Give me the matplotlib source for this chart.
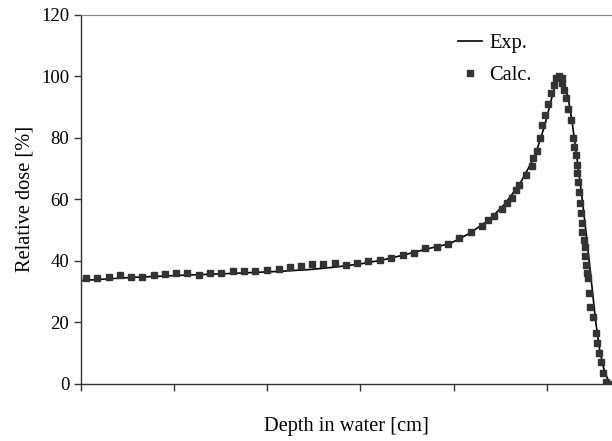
import matplotlib.pyplot as plt

# depth in cm, dose in %
exp_depth = [0.0, 2.63, 5.31, 7.99, 10.68, 12.29, 13.68, 14.97, 16.20, 17.38, 18.72, 19.80,
             20.87, 21.94, 22.75, 23.55, 24.36, 24.89, 25.27, 25.48, 25.62, 25.75, 25.91,
             26.13, 26.34, 26.50, 26.66, 26.82, 26.98, 27.15, 27.31, 27.47, 27.63, 27.84,
             28.06, 28.27, 28.43]
exp_dose = [33.6, 34.6, 35.3, 35.9, 36.6, 37.2, 38.0, 39.0, 40.3, 42.0, 44.1, 45.6,
            49.0, 53.5, 58.5, 65.0, 74.0, 84.0, 93.0, 98.0, 100.5, 99.5, 97.0,
            93.5, 86.0, 78.7, 71.5, 64.0, 56.0, 47.0, 38.0, 29.0, 20.0, 11.0,
            5.0, 1.5, 0.3]

calc_depth = [0.28, 0.86, 1.49, 2.08, 2.67, 3.29, 3.90, 4.52, 5.11, 5.70, 6.33, 6.92, 7.53,
              8.14, 8.73, 9.33, 9.99, 10.61, 11.21, 11.82, 12.41, 13.00, 13.63, 14.22,
              14.82, 15.43, 16.04, 16.65, 17.26, 17.86, 18.45, 19.08, 19.71, 20.28, 20.91,
              21.50, 21.85, 22.16, 22.57, 22.87, 23.11, 23.37, 23.50, 23.91, 24.18, 24.27,
              24.45, 24.62, 24.76, 24.89, 25.08, 25.25, 25.38, 25.52, 25.66, 25.79, 25.84,
              25.91, 26.02, 26.14, 26.32, 26.41, 26.47, 26.56, 26.60, 26.63, 26.68, 26.73,
              26.77, 26.82, 26.88, 26.91, 26.98, 27.04, 27.07, 27.11, 27.16, 27.21, 27.27,
              27.34, 27.48, 27.63, 27.72, 27.81, 27.90, 28.02, 28.20, 28.38]
calc_dose = [34.3, 34.3, 34.9, 35.3, 34.7, 34.7, 35.3, 35.7, 36.0, 36.0, 35.5, 36.0, 36.2,
             36.8, 36.8, 36.6, 37.0, 37.3, 38.1, 38.3, 39.0, 39.0, 39.4, 38.6,
             39.4, 39.9, 40.3, 40.9, 42.0, 42.7, 44.1, 44.6, 45.4, 47.4, 49.3,
             51.3, 53.3, 54.6, 56.8, 58.7, 60.3, 63.0, 64.7, 67.9, 70.8, 73.3,
             75.8, 79.8, 84.0, 87.4, 91.0, 94.5, 97.0, 99.4, 100.2, 99.4, 97.7,
             95.5, 92.8, 89.5, 85.8, 79.8, 77.1, 74.4, 71.1, 68.5, 65.7, 62.5,
             58.7, 55.5, 52.2, 49.5, 46.8, 44.6, 41.6, 38.7, 36.0, 34.4, 29.5,
             25.1, 21.9, 16.5, 13.2, 10.0, 7.2, 3.5, 0.7, 0.0]

plt.rcParams['font.family'] = ['Liberation Serif', 'DejaVu Serif']

fig = plt.figure(figsize=(6.12, 4.41), dpi=100)
ax = fig.add_axes([0.1324, 0.1293, 0.8676, 0.8374])

ax.plot(exp_depth, exp_dose, color='black', lw=1.2, label='Exp.', zorder=2)
ax.plot(calc_depth, calc_dose, ls='none', marker='s', ms=4.3, color='#333333',
        label='Calc.', zorder=3)

ax.set_xlim(0, 28.5)
ax.set_ylim(0, 120)
ax.set_yticks(range(0, 121, 20))
ax.set_xticks(range(0, 26, 5))
ax.set_xticklabels([])
ax.tick_params(axis='both', direction='out', length=5, width=1, color='#333333', labelsize=13.5)

ax.spines['right'].set_visible(False)
ax.spines['top'].set_color('#888888')
ax.spines['top'].set_linewidth(0.8)
for s in ['left', 'bottom']:
    ax.spines[s].set_color('#333333')
    ax.spines[s].set_linewidth(1.0)

ax.set_xlabel('Depth in water [cm]', fontsize=14.7, labelpad=15)
ax.set_ylabel('Relative dose [%]', fontsize=14.7, labelpad=5)

ax.legend(loc='upper left', bbox_to_anchor=(0.691, 0.976), frameon=False, fontsize=14.7,
          handlelength=1.17, handletextpad=0.34, labelspacing=0.62, borderpad=0)

fig.savefig('out.png', dpi=100)
